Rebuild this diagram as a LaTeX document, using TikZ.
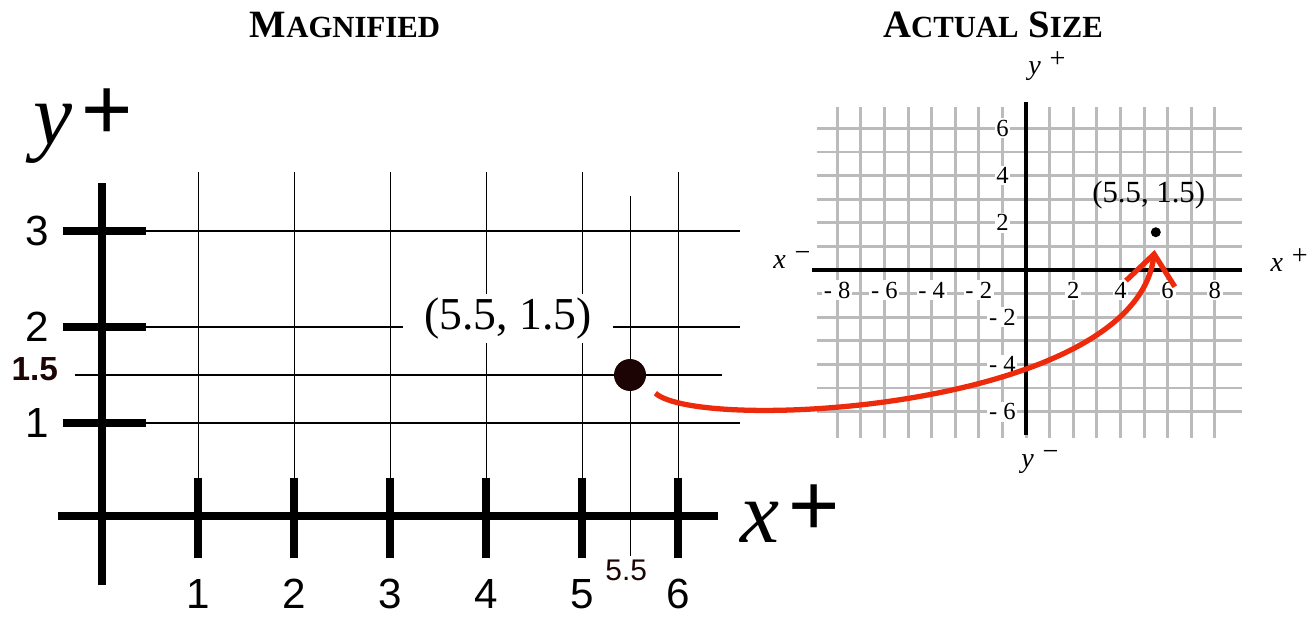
\documentclass[tikz,border=0pt]{standalone}
\usepackage{fontspec}
\setmainfont{Liberation Serif}
\setsansfont{Liberation Sans}
\usetikzlibrary{arrows.meta,positioning}
\definecolor{arrowred}{RGB}{238,42,12}
\definecolor{dotbrown}{RGB}{28,4,4}
\definecolor{gridgray}{RGB}{187,187,187}
\tikzset{
  thickaxis/.style={line width=4.5pt},
  thinline/.style={line width=1.1pt},
  hairline/.style={line width=0.5pt},
  bignum/.style={font=\sffamily\fontsize{24}{24}\selectfont},
  ticknum/.style={font=\fontsize{14}{14}\selectfont,fill=white,inner sep=1pt},
  smallgrid/.style={gridgray,line width=1.7pt},
  axislabel/.style={font=\fontsize{16}{16}\selectfont},
  title/.style={font=\bfseries\fontsize{22}{22}\selectfont}
}
\newcommand{\smallcap}[1]{{\fontsize{17.5}{17.5}\selectfont #1}}
\begin{document}
\begin{tikzpicture}
  \useasboundingbox (0,0) rectangle (26.18,12.32);
  % titles
  \node[title] (magtitle) at (6.9,11.82) {M\smallcap{AGNIFIED}};
  \node[title] (acttitle) at (19.86,11.82) {A\smallcap{CTUAL} S\smallcap{IZE}};
  % magnified
  \begin{scope}[shift={(2.04,1.94)},x=1.92cm,y=1.92cm]
  \foreach \i in {1,...,6}
    \draw[hairline] (\i,0.43) -- (\i,3.61);
  \draw[hairline] (5.5,-0.39) -- (5.5,3.36);
  \foreach \j in {1,2,3}
    \draw[thinline] (0.46,\j) -- (6.65,\j);
  \draw[thinline] (-0.28,1.5) -- (6.46,1.5);
  \draw[thickaxis] (0,-0.69) -- (0,3.5);
  \draw[thickaxis] (-0.46,0.03) -- (6.42,0.03);
  \foreach \j in {1,2,3}{
    \draw[thickaxis] (-0.41,\j) -- (0.46,\j);
    \node[bignum] (my\j) at (-0.67,\j) {\j};
  }
  \foreach \i in {1,...,6}{
    \draw[thickaxis] (\i,0.43) -- (\i,-0.41);
    \node[bignum] (mx\i) at (\i,-0.78) {\i};
  }
  \node[font=\sffamily\bfseries\fontsize{19}{19}\selectfont,text=dotbrown] (myhalf) at (-0.70,1.56) {1.5};
  \node[font=\sffamily\fontsize{17}{17}\selectfont,text=dotbrown] (mxhalf) at (5.46,-0.54) {5.5};
  \node[fill=white,font=\fontsize{26}{26}\selectfont,inner xsep=0.42cm,inner ysep=2pt] (bigcoord) at (4.23,2.09) {(5.5, 1.5)};
  \node[circle,fill=dotbrown,minimum size=0.64cm,inner sep=0] (bigdot) at (5.5,1.5) {};
  \node[anchor=base west,font=\fontsize{50}{50}\selectfont,inner sep=0] (ylab) at (-0.72,3.9)
    {\textit{y}\hspace{5pt}\raisebox{3pt}{\sffamily +}};
  \node[anchor=base west,font=\fontsize{50}{50}\selectfont,inner sep=0] (xlab) at (6.65,-0.24)
    {\textit{x}\hspace{5pt}\raisebox{4pt}{\sffamily +}};
  \end{scope}
  % actual size
  \begin{scope}[shift={(20.52,6.92)},x=0.472cm,y=0.472cm]
  \foreach \i in {-8,...,8}
    \draw[smallgrid] (\i,-7.1) -- (\i,6.9);
  \foreach \j in {-6,...,6}
    \draw[smallgrid] (-8.86,\j) -- (9.15,\j);
  \foreach \i/\t [count=\k] in {-8/- 8,-6/- 6,-4/- 4,-2/- 2,2/2,4/4,6/6,8/8}
    \node[ticknum] (ax\k) at (\i,-0.85) {\t};
  \foreach \j/\t [count=\k] in {6/6,4/4,2/2,-2/- 2,-4/- 4,-6/- 6}
    \node[ticknum] (ay\k) at (-1,\j) {\t};
  \draw[line width=2.8pt] (-9.07,0) -- (9.15,0);
  \draw[line width=2.8pt] (0,-7) -- (0,7.13);
  \node[circle,fill=black,minimum size=0.2cm,inner sep=0] (smalldot) at (5.5,1.6) {};
  \node[font=\fontsize{17.5}{18}\selectfont] (smallcoord) at (5.2,3.18) {(5.5, 1.5)};
  \node[axislabel] (xminus) at (-9.92,0.42) {\textit{x}\hspace{5pt}\raisebox{4pt}{−}};
  \node[axislabel] (xplus) at (11.15,0.42) {\textit{x}\hspace{5pt}\raisebox{4pt}{+}};
  \node[axislabel] (yplus) at (0.89,8.64) {\textit{y}\hspace{5pt}\raisebox{4pt}{+}};
  \node[axislabel] (yminus) at (0.59,-8.14) {\textit{y}\hspace{5pt}\raisebox{4pt}{−}};
  \coordinate (arrowtip) at (5.45,0.85);
  \end{scope}
  % arrow between the two
  \draw[arrowred,line width=3pt,shorten <=0.3cm,-{Straight Barb[length=17pt,width=28pt]}]
    (bigdot.-30) .. controls +(1.12,-1.0) and +(-0.4,-3.2) .. (arrowtip);
\end{tikzpicture}
\end{document}
